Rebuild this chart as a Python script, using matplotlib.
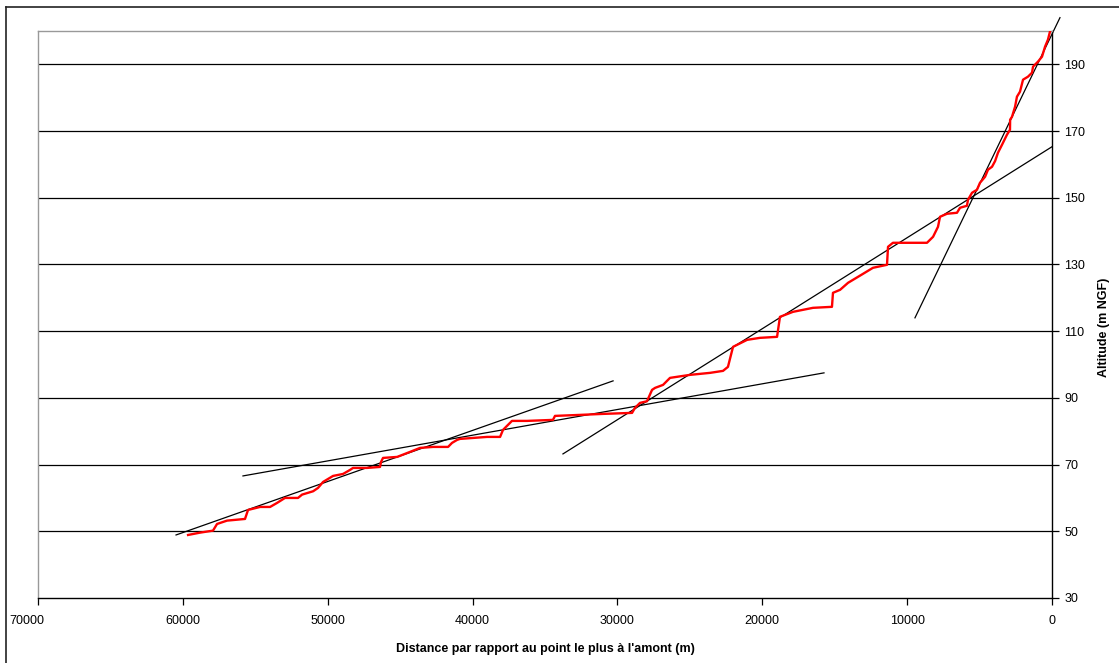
import matplotlib
matplotlib.use("Agg")
import matplotlib.pyplot as plt
import matplotlib.transforms as mtransforms
from matplotlib.lines import Line2D

plt.rcParams['font.family'] = ['Liberation Sans', 'DejaVu Sans']

# Red longitudinal profile: distance from upstream point (m), altitude (m NGF)
dist = [59640, 58810, 57920, 57640, 56950, 55710, 55500, 54670, 53980, 53500,
        52950, 52050, 51770, 51010, 50670, 50320, 49630, 48940, 48460, 48250,
        47290, 46390, 46320, 46180, 45210, 44320, 43630, 42730, 41690, 41420,
        41070, 40870, 39000, 38100, 37900, 37280, 36240, 34450, 34310, 32580,
        30990, 28990, 28790, 28440, 27960, 27610, 27400, 26850, 26370, 24990,
        23610, 22710, 22370, 22020, 21050, 20160, 18980, 18780, 17880, 16500,
        15190, 15120, 14630, 14080, 13120, 12360, 11390, 11320, 10980, 8630,
        8210, 7870, 7730, 7250, 6560, 6350, 5870, 5800, 5520, 5180,
        4970, 4620, 4420, 4140, 3930, 3730, 3450, 3110, 2900, 2890,
        2760, 2550, 2420, 2210, 2000, 1660, 1380, 1310, 970, 690,
        480, 280, 140]
alt = [48.9, 49.6, 50.2, 52.2, 53.2, 53.7, 56.4, 57.3, 57.3, 58.5,
       60.0, 60.0, 61.0, 62.0, 63.0, 64.8, 66.6, 67.2, 68.4, 69.0,
       69.0, 69.3, 70.8, 72.0, 72.3, 73.8, 75.0, 75.3, 75.3, 76.5,
       77.4, 77.7, 78.3, 78.3, 80.4, 83.1, 83.1, 83.4, 84.6, 84.9,
       85.2, 85.5, 87.0, 88.5, 89.0, 92.4, 93.0, 93.9, 96.0, 96.9,
       97.5, 98.1, 99.3, 105.3, 107.4, 108.0, 108.3, 114.3, 115.8, 117.0,
       117.3, 121.5, 122.4, 124.5, 127.0, 129.0, 129.9, 135.3, 136.5, 136.5,
       138.3, 141.3, 144.3, 145.2, 145.5, 147.0, 147.6, 149.4, 151.5, 152.4,
       154.5, 156.3, 158.4, 159.3, 161.0, 163.5, 165.9, 168.9, 170.4, 173.4,
       174.3, 177.3, 180.3, 181.8, 185.4, 186.3, 187.5, 189.3, 190.8, 192.3,
       195.3, 197.4, 199.8]

# Black trend segments: (x start, x end), (y start, y end)
trend_x = [(60470, 30300), (55850, 15740), (33760, 0), (9460, -550)]
trend_y = [(48.9, 95.1), (66.6, 97.5), (73.2, 165.3), (114.0, 204.0)]

x_ticks = [0, 10000, 20000, 30000, 40000, 50000, 60000, 70000]
y_ticks = [30, 50, 70, 90, 110, 130, 150, 170, 190]
grid_levels = [50, 70, 90, 110, 130, 150, 170, 190]

fig = plt.figure(figsize=(11.19, 6.63), dpi=100)
ax = fig.add_axes([38 / 1119, 65 / 663, 1014 / 1119, 567 / 663])

for g in grid_levels:
    ax.axhline(g, color='black', lw=0.9, zorder=1)

for (x0, x1), (y0, y1) in zip(trend_x, trend_y):
    ax.plot([x0, x1], [y0, y1], color='black', lw=0.9, zorder=2,
            clip_on=False)

ax.plot(dist, alt, color='#ff0000', lw=1.7, zorder=3)

ax.set_xlim(70000, 0)
ax.set_ylim(30, 200)
ax.set_xticks(x_ticks)
ax.set_yticks(y_ticks)
ax.yaxis.tick_right()
ax.yaxis.set_label_position('right')
ax.tick_params(axis='both', direction='out', length=5, width=0.9,
               labelsize=9, colors='black')
ax.tick_params(axis='x', pad=7)
ax.tick_params(axis='y', pad=4)

for side in ['left', 'top']:
    ax.spines[side].set_color('#999999')
    ax.spines[side].set_linewidth(1.0)
for side in ['right', 'bottom']:
    ax.spines[side].set_color('black')
    ax.spines[side].set_linewidth(1.0)

ax.set_xlabel("Distance par rapport au point le plus à l'amont (m)",
              fontsize=9, fontweight='bold')
ax.set_ylabel("Altitude (m NGF)", fontsize=9, fontweight='bold')
ax.xaxis.set_label_coords(0.5, -0.079)
ax.yaxis.set_label_coords(1.045, 0.478)

# shift the outermost x tick label inward, as in the reference
for lbl in ax.get_xticklabels():
    if lbl.get_text() == '70000':
        lbl.set_transform(lbl.get_transform() +
                          mtransforms.ScaledTranslation(-11 / 100, 0,
                                                        fig.dpi_scale_trans))

# outer frame
fig.add_artist(Line2D([6 / 1119, 1.0], [1 - 7 / 663, 1 - 7 / 663],
                      color='#222222', lw=1.2, transform=fig.transFigure))
fig.add_artist(Line2D([6 / 1119, 6 / 1119], [0.0, 1 - 7 / 663],
                      color='#222222', lw=1.2, transform=fig.transFigure))

fig.savefig('out.png', dpi=100)
